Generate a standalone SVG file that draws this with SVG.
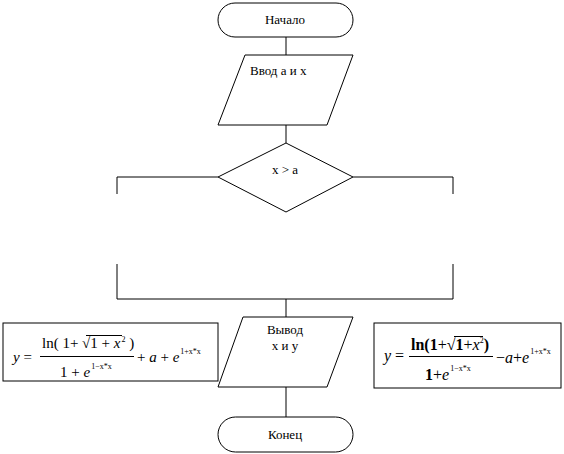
<svg xmlns="http://www.w3.org/2000/svg" width="564" height="454" viewBox="0 0 564 454">
<style>
.s{fill:#fff;stroke:#000;stroke-width:1}
.l{fill:none;stroke:#000;stroke-width:1}
.t{font-family:"Liberation Serif","DejaVu Serif",serif;font-size:13px;fill:#000}
.m{font-family:"Liberation Serif","DejaVu Serif",serif;font-size:15px;fill:#000}
.mb{font-family:"Liberation Serif","DejaVu Serif",serif;font-size:16px;fill:#000}
.i{font-style:italic}
.b{font-weight:bold}
.sup{font-size:8px}
</style>
<rect width="564" height="454" fill="#fff"/>
<g id="connectors">
<line class="l" x1="286" y1="37" x2="286" y2="55"/>
<line class="l" x1="286" y1="125" x2="286" y2="143"/>
<polyline class="l" points="218,177 117,177 117,194"/>
<polyline class="l" points="353,177 453,177 453,194"/>
<polyline class="l" points="117,264 117,299 453,299 453,264"/>
<line class="l" x1="286" y1="299" x2="286" y2="317"/>
<line class="l" x1="286" y1="387" x2="286" y2="417"/>
</g>
<g id="start">
<rect class="s" x="218" y="3" width="135" height="34" rx="17" ry="17"/>
<text class="t" x="285" y="24" text-anchor="middle">Начало</text>
</g>
<g id="input">
<polygon class="s" points="245,55 353,55 327,125 218,125"/>
<text class="t" x="250" y="75">Ввод  a и x</text>
</g>
<g id="decision">
<polygon class="s" points="286,143 353,177 286,212 218,177"/>
<text class="t" x="285" y="174" text-anchor="middle">x &gt; a</text>
</g>
<g id="output">
<polygon class="s" points="243,317 353,317 327,387 218,387"/>
<text class="t" x="285" y="334" text-anchor="middle">Вывод</text>
<text class="t" x="285" y="350" text-anchor="middle">x и y</text>
</g>
<g id="end">
<rect class="s" x="218" y="417" width="135" height="35" rx="17.5" ry="17.5"/>
<text class="t" x="285" y="439" text-anchor="middle">Конец</text>
</g>
<g id="formula-left">
<rect class="s" x="3" y="323" width="215" height="58"/>
<text class="m" x="13" y="362"><tspan class="i">y</tspan> =</text>
<line class="l" x1="40" y1="356.5" x2="134" y2="356.5"/>
<line class="l" x1="86" y1="335.5" x2="122" y2="335.5"/>
<text class="m" x="42" y="348">ln( 1+ √1 + <tspan class="i">x</tspan><tspan class="sup" dy="-6" dx="1">2</tspan><tspan dy="6"> )</tspan></text>
<text class="m" x="60" y="377">1 + <tspan class="i">e</tspan><tspan class="sup" dy="-8" dx="1">1−x*x</tspan></text>
<text class="m" x="137" y="362">+ <tspan class="i">a</tspan> + <tspan class="i">e</tspan><tspan class="sup" dy="-8" dx="1">1+x*x</tspan></text>
</g>
<g id="formula-right">
<rect class="s" x="374" y="323" width="187" height="65"/>
<text class="mb" x="384" y="361"><tspan class="i">y</tspan> =</text>
<line class="l" x1="409" y1="356.5" x2="493" y2="356.5"/>
<line class="l" x1="454" y1="336.5" x2="483" y2="336.5"/>
<text class="mb" x="411" y="350" font-size="15"><tspan class="b">ln(1</tspan>+√<tspan class="b">1</tspan>+<tspan class="i">x</tspan><tspan class="sup" dy="-7">2</tspan><tspan class="b" dy="7">)</tspan></text>
<text class="mb" x="425" y="380"><tspan class="b">1</tspan>+<tspan class="i">e</tspan><tspan class="sup" dy="-9" dx="1">1−x*x</tspan></text>
<text class="mb" x="496" y="363">−<tspan class="i">a</tspan>+<tspan class="i">e</tspan><tspan class="sup" dy="-9" dx="1">1+x*x</tspan></text>
</g>
</svg>
